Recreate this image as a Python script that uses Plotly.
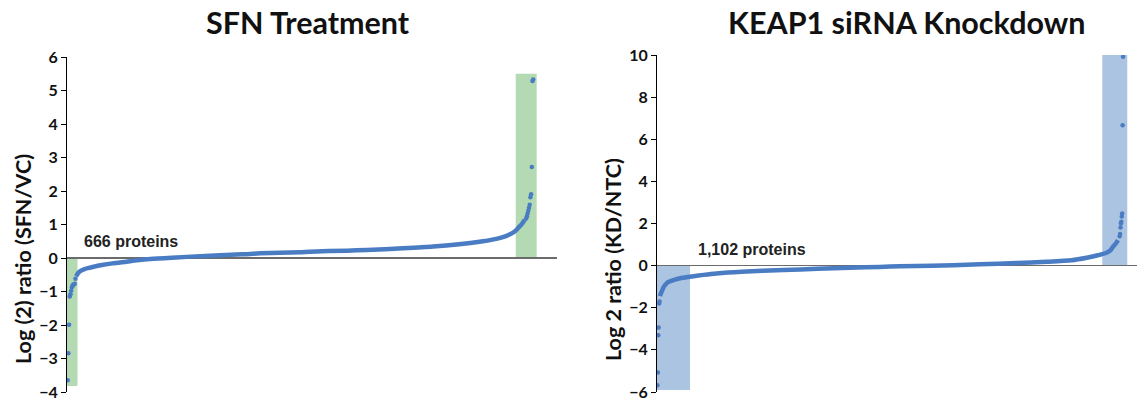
import plotly.graph_objects as go

# ---------------- data ----------------
# SFN treatment: 666 proteins ranked by log2 ratio
sfn_rank_body = [13, 16, 20, 25, 30, 38, 50, 65, 85, 100, 119, 150, 204, 250, 276,
                 333, 347, 400, 428, 480, 523, 560, 594, 615, 628, 640, 645, 650, 654]
sfn_log2_body = [-0.55, -0.45, -0.38, -0.33, -0.30, -0.26, -0.21, -0.16, -0.11, -0.07,
                 -0.03, 0.01, 0.07, 0.11, 0.14, 0.17, 0.19, 0.22, 0.24, 0.29, 0.34,
                 0.41, 0.50, 0.58, 0.66, 0.80, 0.91, 1.02, 1.14]
sfn_rank_tail = [1, 2, 3, 4, 5, 6, 7, 8, 9, 10, 11, 12,
                 656, 657, 658, 659, 660, 661, 662, 663, 664, 665, 666]
sfn_log2_tail = [-3.65, -2.84, -1.99, -1.15, -1.08, -0.98, -0.87, -0.82, -0.80, -0.78, -0.77, -0.62,
                 1.18, 1.25, 1.33, 1.41, 1.50, 1.59, 1.81, 1.90, 2.72, 5.28, 5.33]

# KEAP1 siRNA knockdown: 1,102 proteins ranked by log2 ratio
kd_rank_body = [7, 9, 11, 15, 19, 25, 39, 55, 78, 110, 141, 200, 299, 380, 456, 527,
                574, 650, 700, 763, 850, 921, 980, 1016, 1040, 1063, 1072, 1078, 1085, 1090]
kd_log2_body = [-1.45, -1.33, -1.24, -1.05, -0.93, -0.80, -0.69, -0.60, -0.53, -0.44,
                -0.37, -0.29, -0.21, -0.15, -0.10, -0.06, -0.03, -0.01, 0.02, 0.06,
                0.12, 0.18, 0.25, 0.37, 0.48, 0.61, 0.72, 0.89, 1.05, 1.21]
kd_rank_tail = [1, 2, 3, 4, 5, 6,
                1094, 1095, 1096, 1097, 1098, 1099, 1100, 1101, 1102]
kd_log2_tail = [-5.68, -5.07, -3.30, -2.94, -1.80, -1.70,
                1.40, 1.50, 1.81, 2.00, 2.08, 2.33, 2.48, 6.67, 9.92]

# highlighted regions (rank range, log2 range)
sfn_low_band = ([0, 15], [-3.82, 0])
sfn_high_band = ([641, 671], [0, 5.5])
kd_low_band = ([0, 78], [-5.9, 0])
kd_high_band = ([1053, 1112], [0, 10.05])

sfn_yticks = [-4, -3, -2, -1, 0, 1, 2, 3, 4, 5, 6]
kd_yticks = [-6, -4, -2, 0, 2, 4, 6, 8, 10]

titles = ["SFN Treatment", "KEAP1 siRNA Knockdown"]
ytitles = ["Log (2) ratio (SFN/VC)", "Log 2 ratio (KD/NTC)"]
counts = ["666 proteins", "1,102 proteins"]

# ---------------- styling ----------------
W, H = 1137, 402
BLUE = "#4a7cc3"
GREEN_BAND = "#b3dab3"
BLUE_BAND = "#abc4e1"
TICK_FONT = dict(family="Lato", size=16, color="#111111", weight=700)

def fx(px):
    return px / W

def fy(py):
    return 1 - py / H

fig = go.Figure()

# body curves (dense points appear as a thick line)
fig.add_trace(go.Scatter(x=sfn_rank_body, y=sfn_log2_body, mode="lines",
                         line=dict(color=BLUE, width=4.5, shape="spline", smoothing=0.6),
                         xaxis="x", yaxis="y", showlegend=False))
fig.add_trace(go.Scatter(x=sfn_rank_tail, y=sfn_log2_tail, mode="markers",
                         marker=dict(color=BLUE, size=4.5), xaxis="x", yaxis="y",
                         showlegend=False))
fig.add_trace(go.Scatter(x=kd_rank_body, y=kd_log2_body, mode="lines",
                         line=dict(color=BLUE, width=4.5, shape="spline", smoothing=0.6),
                         xaxis="x2", yaxis="y2", showlegend=False))
fig.add_trace(go.Scatter(x=kd_rank_tail, y=kd_log2_tail, mode="markers",
                         marker=dict(color=BLUE, size=4.5), xaxis="x2", yaxis="y2",
                         showlegend=False))

shapes = []
for (bx, by), color, xr, yr in [
    (sfn_low_band, GREEN_BAND, "x", "y"),
    (sfn_high_band, GREEN_BAND, "x", "y"),
    (kd_low_band, BLUE_BAND, "x2", "y2"),
    (kd_high_band, BLUE_BAND, "x2", "y2"),
]:
    shapes.append(dict(type="rect", xref=xr, yref=yr, x0=bx[0], x1=bx[1], y0=by[0], y1=by[1],
                       fillcolor=color, line=dict(width=0), layer="below"))

common_x = dict(showline=False, showticklabels=False, showgrid=False, zeroline=False, ticks="")
common_y = dict(showline=True, linecolor="#000000", linewidth=1, ticks="outside", ticklen=5,
                tickcolor="#000000", tickwidth=1, showgrid=False, zeroline=True,
                zerolinecolor="#6b6b6b", zerolinewidth=1.6, tickfont=TICK_FONT,
                automargin=False)

fig.update_layout(
    width=W, height=H,
    margin=dict(l=0, r=0, t=0, b=0, pad=0),
    paper_bgcolor="white", plot_bgcolor="white",
    hovermode=False,
    shapes=shapes,
    xaxis=dict(domain=[fx(67), fx(557)], range=[0, 700], **common_x),
    xaxis2=dict(domain=[fx(657), 1.0], range=[0, 1135], **common_x),
    yaxis=dict(domain=[fy(392), fy(57)], range=[-4, 6], tickvals=sfn_yticks,
               anchor="x", **common_y),
    yaxis2=dict(domain=[fy(392), fy(55)], range=[-6, 10], tickvals=kd_yticks,
                anchor="x2", **common_y),
    annotations=[
        dict(text=titles[0], x=fx(308), y=fy(22), xref="paper", yref="paper",
             showarrow=False, xanchor="center", yanchor="middle",
             font=dict(family="Lato", size=30.5, color="#111111", weight=700)),
        dict(text=titles[1], x=fx(906), y=fy(22), xref="paper", yref="paper",
             showarrow=False, xanchor="center", yanchor="middle",
             font=dict(family="Lato", size=30.5, color="#111111", weight=700)),
        dict(text=ytitles[0], x=fx(23), y=fy(259), xref="paper", yref="paper",
             showarrow=False, textangle=-90, xanchor="center", yanchor="middle",
             font=dict(family="Lato", size=21.5, color="#111111", weight=700)),
        dict(text=ytitles[1], x=fx(613), y=fy(260), xref="paper", yref="paper",
             showarrow=False, textangle=-90, xanchor="center", yanchor="middle",
             font=dict(family="Lato", size=21.5, color="#111111", weight=700)),
        dict(text=counts[0], x=fx(131), y=fy(241), xref="paper", yref="paper",
             showarrow=False, xanchor="center", yanchor="middle",
             font=dict(family="Liberation Sans", size=16, color="#222222", weight=700)),
        dict(text=counts[1], x=fx(752), y=fy(249), xref="paper", yref="paper",
             showarrow=False, xanchor="center", yanchor="middle",
             font=dict(family="Liberation Sans", size=16, color="#222222", weight=700)),
    ],
)

fig.write_html("out.html",
               config={"displayModeBar": False, "staticPlot": True},
               post_script="document.body.style.margin='0';document.body.style.overflow='hidden';")
